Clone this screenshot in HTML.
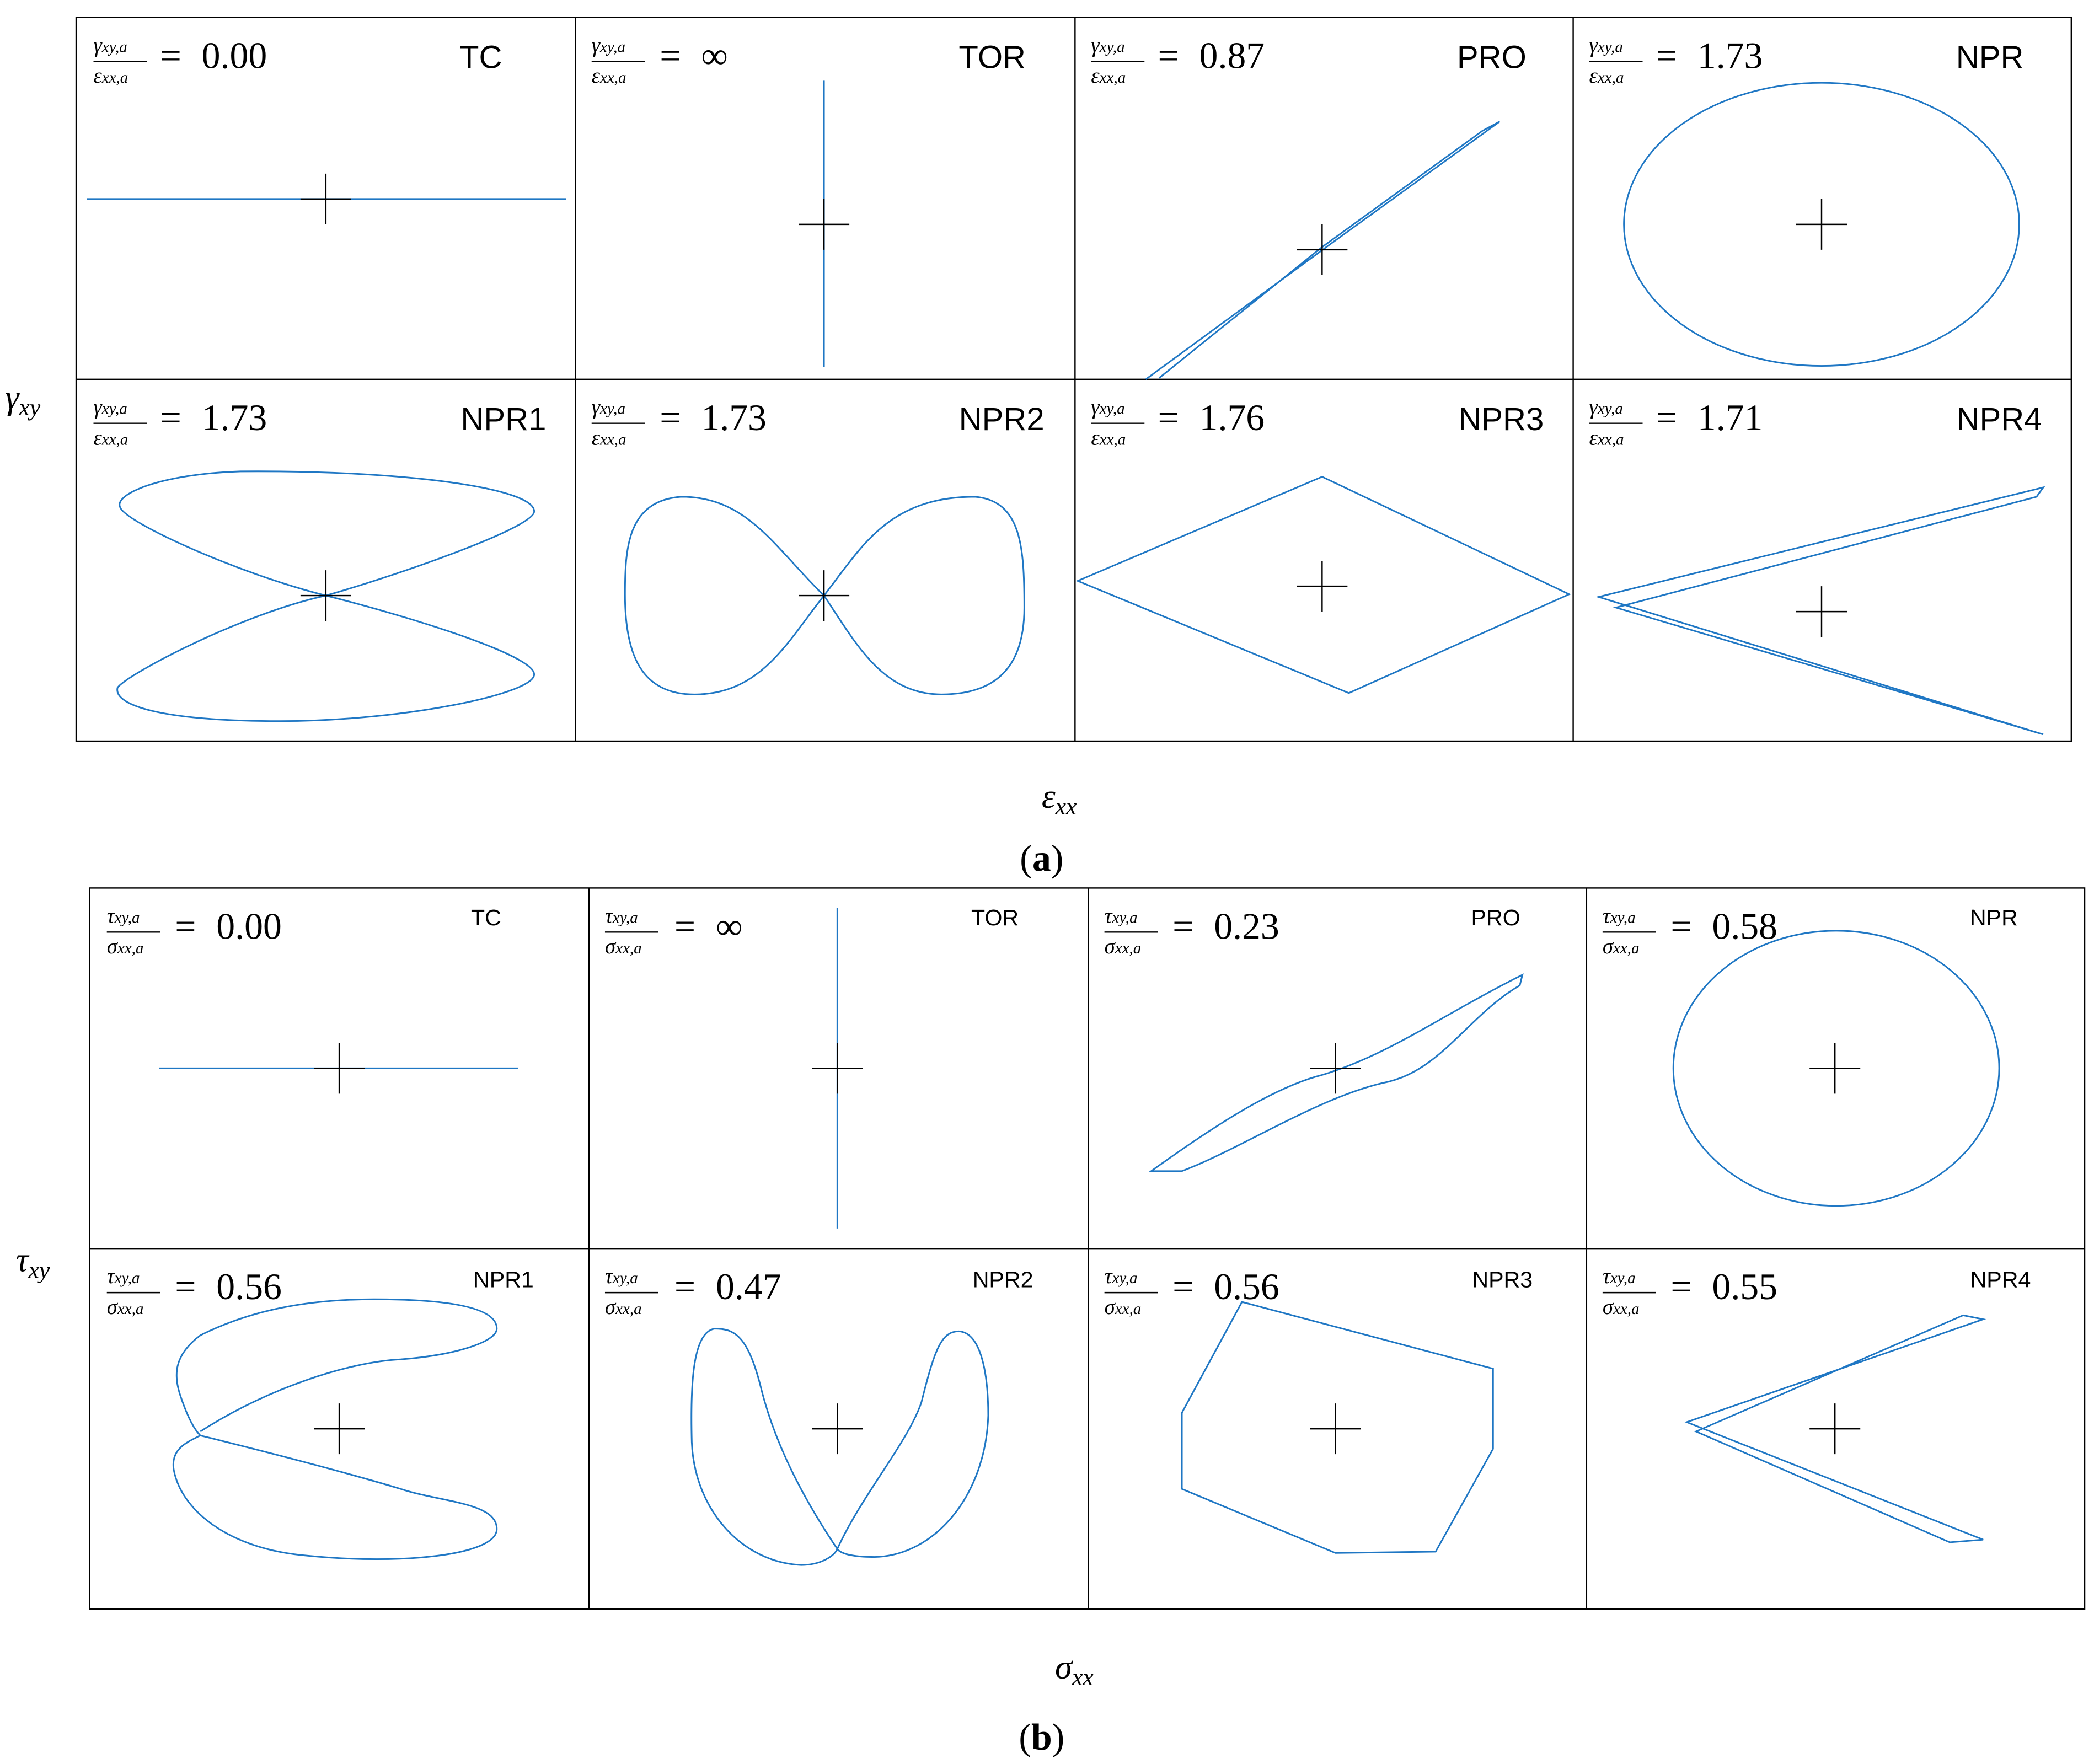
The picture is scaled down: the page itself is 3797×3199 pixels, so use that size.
<!DOCTYPE html>
<html><head><meta charset="utf-8"><style>
html,body{margin:0;padding:0;background:#fff}
svg{display:block}
.f{font-family:"Liberation Serif",serif;font-style:italic}
.n{font-family:"Liberation Serif",serif}
.s{font-family:"Liberation Sans",sans-serif}
</style></head><body>
<svg width="3797" height="3199" viewBox="0 0 1568 1321" xmlns="http://www.w3.org/2000/svg">
<defs>
<g id="cr"><path d="M-19,0H19M0,-19V19" stroke="#000" stroke-width="1"/></g>
</defs>
<g fill="none" stroke="#000" stroke-width="1">
<rect x="57" y="13" width="1494" height="542"/>
<path d="M57,284H1551M431,13V555M805,13V555M1178,13V555"/>
<rect x="67" y="665" width="1494" height="540"/>
<path d="M67,935H1561M441,665V1205M815,665V1205M1188,665V1205"/>
</g>
<g fill="none" stroke="#1f77c4" stroke-width="1.2">
<path d="M65,149H424"/>
<path d="M617,60V275"/>
<path d="M858,284 L1000,180 L1123,91 L1110,98 L990,185 L868,283"/>
<ellipse cx="1364" cy="168" rx="148" ry="106"/>
<path d="M244,446 C300,430 400,395 400,383 C400,365 300,352 180,353 C120,355 85,370 90,380 C95,392 180,430 244,446 C180,460 95,505 88,515 C85,528 120,540 210,540 C300,540 400,520 400,505 C400,490 300,460 244,446 Z"/>
<path d="M617,446 C580,410 560,372 510,372 C470,375 468,410 468,445 C468,490 480,520 520,520 C570,520 590,480 617,446 C645,410 665,372 730,372 C765,375 767,410 767,455 C767,495 750,520 705,520 C660,520 640,480 617,446 Z"/>
<path d="M807,435 L990,357 L1175,445 L1010,519 Z"/>
<path d="M1530,365 L1197,447 L1530,550 L1520,547 L1210,455 L1525,372 Z"/>
</g>
<g fill="none" stroke="#1f77c4" stroke-width="1.2">
<path d="M119,800H388"/>
<path d="M627,680V920"/>
<path d="M862,877 C900,850 950,815 990,805 C1040,790 1080,760 1140,730 L1138,738 C1100,760 1080,800 1040,810 C990,820 930,860 885,877 Z"/>
<ellipse cx="1375" cy="800" rx="122" ry="103"/>
<path d="M150,1072 C200,1040 260,1020 300,1018 C340,1015 372,1005 372,995 C372,980 340,973 280,973 C220,973 180,985 150,1000 C130,1015 130,1030 135,1045 C140,1060 145,1070 150,1075 C140,1080 128,1085 130,1100 C135,1130 170,1160 230,1165 C300,1172 372,1165 372,1145 C372,1125 330,1125 300,1115 C250,1100 190,1085 150,1075"/>
<path d="M627,1160 C600,1120 580,1080 570,1040 C560,1000 550,995 535,995 C518,998 517,1040 518,1080 C520,1130 555,1170 600,1172 C615,1172 625,1165 627,1160 C645,1120 680,1080 690,1050 C700,1010 705,997 718,997 C735,998 740,1030 740,1060 C738,1120 700,1165 655,1166 C640,1166 630,1164 627,1160 Z"/>
<path d="M930,975 L1118,1025 L1118,1085 L1075,1162 L1000,1163 L885,1115 L885,1058 Z"/>
<path d="M1485,988 L1263,1065 L1485,1153 L1460,1155 L1270,1072 L1470,985 Z"/>
</g>
<use href="#cr" x="244" y="149"/><use href="#cr" x="617" y="168"/><use href="#cr" x="990" y="187"/><use href="#cr" x="1364" y="168"/>
<use href="#cr" x="244" y="446"/><use href="#cr" x="617" y="446"/><use href="#cr" x="990" y="439"/><use href="#cr" x="1364" y="458"/>
<use href="#cr" x="254" y="800"/><use href="#cr" x="627" y="800"/><use href="#cr" x="1000" y="800"/><use href="#cr" x="1374" y="800"/>
<use href="#cr" x="254" y="1070"/><use href="#cr" x="627" y="1070"/><use href="#cr" x="1000" y="1070"/><use href="#cr" x="1374" y="1070"/>
<g font-size="16">
<g class="f">
<text x="70" y="39">γ<tspan font-size="12">xy,a</tspan></text><text x="70" y="62">ε<tspan font-size="12">xx,a</tspan></text>
<text x="443" y="39">γ<tspan font-size="12">xy,a</tspan></text><text x="443" y="62">ε<tspan font-size="12">xx,a</tspan></text>
<text x="817" y="39">γ<tspan font-size="12">xy,a</tspan></text><text x="817" y="62">ε<tspan font-size="12">xx,a</tspan></text>
<text x="1190" y="39">γ<tspan font-size="12">xy,a</tspan></text><text x="1190" y="62">ε<tspan font-size="12">xx,a</tspan></text>
<text x="70" y="310">γ<tspan font-size="12">xy,a</tspan></text><text x="70" y="333">ε<tspan font-size="12">xx,a</tspan></text>
<text x="443" y="310">γ<tspan font-size="12">xy,a</tspan></text><text x="443" y="333">ε<tspan font-size="12">xx,a</tspan></text>
<text x="817" y="310">γ<tspan font-size="12">xy,a</tspan></text><text x="817" y="333">ε<tspan font-size="12">xx,a</tspan></text>
<text x="1190" y="310">γ<tspan font-size="12">xy,a</tspan></text><text x="1190" y="333">ε<tspan font-size="12">xx,a</tspan></text>
<text x="80" y="691">τ<tspan font-size="12">xy,a</tspan></text><text x="80" y="714">σ<tspan font-size="12">xx,a</tspan></text>
<text x="453" y="691">τ<tspan font-size="12">xy,a</tspan></text><text x="453" y="714">σ<tspan font-size="12">xx,a</tspan></text>
<text x="827" y="691">τ<tspan font-size="12">xy,a</tspan></text><text x="827" y="714">σ<tspan font-size="12">xx,a</tspan></text>
<text x="1200" y="691">τ<tspan font-size="12">xy,a</tspan></text><text x="1200" y="714">σ<tspan font-size="12">xx,a</tspan></text>
<text x="80" y="961">τ<tspan font-size="12">xy,a</tspan></text><text x="80" y="984">σ<tspan font-size="12">xx,a</tspan></text>
<text x="453" y="961">τ<tspan font-size="12">xy,a</tspan></text><text x="453" y="984">σ<tspan font-size="12">xx,a</tspan></text>
<text x="827" y="961">τ<tspan font-size="12">xy,a</tspan></text><text x="827" y="984">σ<tspan font-size="12">xx,a</tspan></text>
<text x="1200" y="961">τ<tspan font-size="12">xy,a</tspan></text><text x="1200" y="984">σ<tspan font-size="12">xx,a</tspan></text>
</g>
<path stroke="#000" stroke-width="1" d="M70,46h40M443,46h40M817,46h40M1190,46h40M70,317h40M443,317h40M817,317h40M1190,317h40M80,698h40M453,698h40M827,698h40M1200,698h40M80,968h40M453,968h40M827,968h40M1200,968h40"/>
</g>
<g class="n" font-size="28">
<text x="120" y="51">=</text><text x="151" y="51">0.00</text>
<text x="494" y="51">=</text><text x="525" y="51">∞</text>
<text x="867" y="51">=</text><text x="898" y="51">0.87</text>
<text x="1240" y="51">=</text><text x="1271" y="51">1.73</text>
<text x="120" y="322">=</text><text x="151" y="322">1.73</text>
<text x="494" y="322">=</text><text x="525" y="322">1.73</text>
<text x="867" y="322">=</text><text x="898" y="322">1.76</text>
<text x="1240" y="322">=</text><text x="1271" y="322">1.71</text>
<text x="131" y="703">=</text><text x="162" y="703">0.00</text>
<text x="505" y="703">=</text><text x="536" y="703">∞</text>
<text x="878" y="703">=</text><text x="909" y="703">0.23</text>
<text x="1251" y="703">=</text><text x="1282" y="703">0.58</text>
<text x="131" y="973">=</text><text x="162" y="973">0.56</text>
<text x="505" y="973">=</text><text x="536" y="973">0.47</text>
<text x="878" y="973">=</text><text x="909" y="973">0.56</text>
<text x="1251" y="973">=</text><text x="1282" y="973">0.55</text>
</g>
<g class="s" font-size="24" text-anchor="middle">
<text x="360" y="51">TC</text><text x="743" y="51">TOR</text><text x="1117" y="51">PRO</text><text x="1490" y="51">NPR</text>
<text x="377" y="322">NPR1</text><text x="750" y="322">NPR2</text><text x="1124" y="322">NPR3</text><text x="1497" y="322">NPR4</text>
</g>
<g class="s" font-size="17" text-anchor="middle">
<text x="364" y="693">TC</text><text x="745" y="693">TOR</text><text x="1120" y="693">PRO</text><text x="1493" y="693">NPR</text>
<text x="377" y="964">NPR1</text><text x="751" y="964">NPR2</text><text x="1125" y="964">NPR3</text><text x="1498" y="964">NPR4</text>
</g>
<g class="f" font-size="26">
<text x="4" y="306">γ<tspan font-size="18" dy="5">xy</tspan></text>
<text x="780" y="605">ε<tspan font-size="18" dy="5">xx</tspan></text>
<text x="12" y="952">τ<tspan font-size="18" dy="5">xy</tspan></text>
<text x="790" y="1257">σ<tspan font-size="18" dy="5">xx</tspan></text>
</g>
<g class="n" font-size="28" text-anchor="middle">
<text x="780" y="652">(<tspan font-weight="bold">a</tspan>)</text>
<text x="780" y="1310">(<tspan font-weight="bold">b</tspan>)</text>
</g>
</svg>
</body></html>
